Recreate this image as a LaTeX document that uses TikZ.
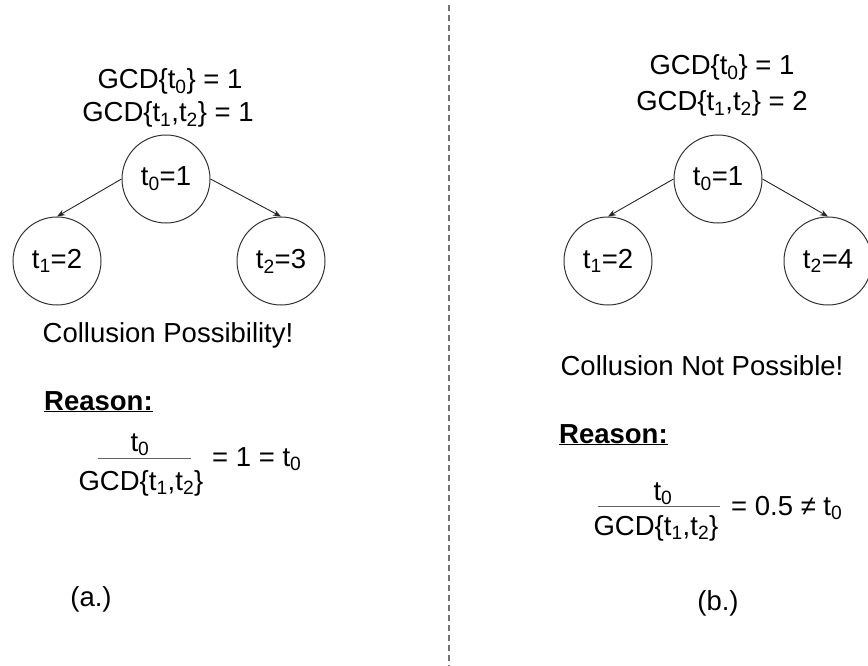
\documentclass[tikz,border=0pt]{standalone}
\usepackage{fontspec}
\setmainfont{Liberation Sans}
\usetikzlibrary{arrows.meta}

\begin{document}
\begin{tikzpicture}[x=1pt, y=-1pt,
    font=\fontsize{27.5}{33}\selectfont,
    tnode/.style={draw=black!80, line width=1pt, circle, minimum size=88pt, inner sep=0pt},
    tarrow/.style={draw=black!85, line width=0.9pt, -{Stealth[length=8pt, width=6pt]}},
    lbl/.style={inner sep=0pt, anchor=base},
    fracline/.style={draw=black!60, line width=1pt}]
  \useasboundingbox (0,0) rectangle (868,666);
  % dashed divider
  \draw[black!55, line width=1.2pt, dash pattern=on 6pt off 4pt] (449,5) -- (449,666);

  % (a.) gcd lines
  \node[lbl] (gcdA0) at (170,89) {GCD\{t\textsubscript{0}\} = 1};
  \node[lbl] (gcdA12) at (168,122) {GCD\{t\textsubscript{1},t\textsubscript{2}\} = 1};
  % (a.) tree
  \node[tnode] (t0A) at (166,179) {t\textsubscript{0}=1};
  \node[tnode] (t1A) at (57,261) {t\textsubscript{1}=2};
  \node[tnode] (t2A) at (281,261) {t\textsubscript{2}=3};
  \draw[tarrow] (t0A.west) -- (t1A.north);
  \draw[tarrow] (t0A.east) -- (t2A.north);
  % (a.) verdict and reason
  \node[lbl] (resA) at (168,342) {Collusion Possibility!};
  \node[lbl, anchor=base west] (reasonA) at (44,410) {\underline{\textbf{Reason:}}};
  \node[lbl] (numA) at (140,451) {t\textsubscript{0}};
  \draw[fracline] (98,458) -- (191,458);
  \node[lbl] (denA) at (141,490) {GCD\{t\textsubscript{1},t\textsubscript{2}\}};
  \node[lbl, anchor=base west] (eqA) at (212,466) {= 1 = t\textsubscript{0}};
  \node[lbl] (capA) at (91,606) {(a.)};

  % (b.) gcd lines
  \node[lbl] (gcdB0) at (722,75) {GCD\{t\textsubscript{0}\} = 1};
  \node[lbl] (gcdB12) at (722,111) {GCD\{t\textsubscript{1},t\textsubscript{2}\} = 2};
  % (b.) tree
  \node[tnode] (t0B) at (718,179) {t\textsubscript{0}=1};
  \node[tnode] (t1B) at (608,261) {t\textsubscript{1}=2};
  \node[tnode] (t2B) at (828,261) {t\textsubscript{2}=4};
  \draw[tarrow] (t0B.west) -- (t1B.north);
  \draw[tarrow] (t0B.east) -- (t2B.north);
  % (b.) verdict and reason
  \node[lbl] (resB) at (702,375) {Collusion Not Possible!};
  \node[lbl, anchor=base west] (reasonB) at (559,443) {\underline{\textbf{Reason:}}};
  \node[lbl] (numB) at (663,500) {t\textsubscript{0}};
  \draw[fracline] (598,506) -- (720,506);
  \node[lbl] (denB) at (656,535) {GCD\{t\textsubscript{1},t\textsubscript{2}\}};
  \node[lbl, anchor=base west] (eqB) at (731,515) {= 0.5 ≠ t\textsubscript{0}};
  \node[lbl] (capB) at (718,610) {(b.)};
\end{tikzpicture}
\end{document}
